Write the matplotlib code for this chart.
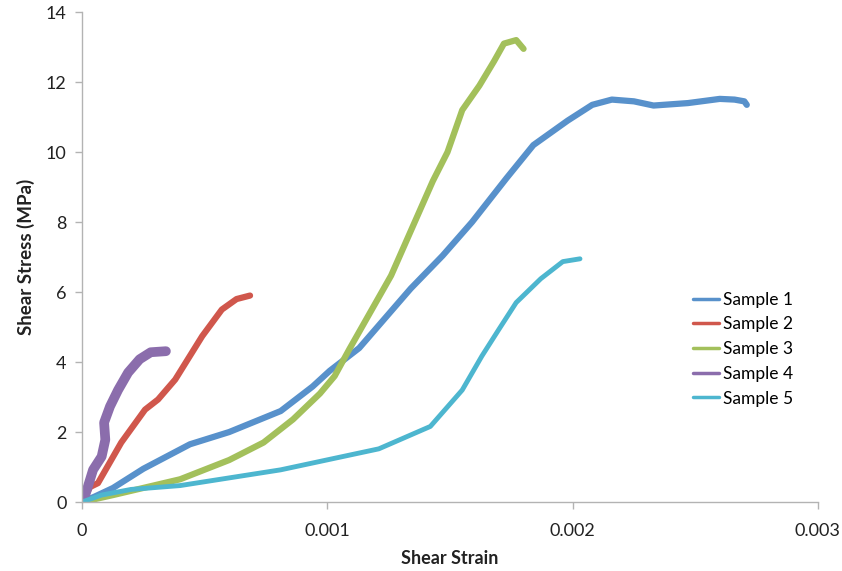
import matplotlib
matplotlib.use("Agg")
import matplotlib.pyplot as plt

plt.rcParams['font.family'] = ['Lato', 'DejaVu Sans']

# Data
s1_x = [0, 0.00005, 0.000126, 0.00025, 0.00044, 0.0006, 0.00081, 0.00094, 0.00101, 0.00113,
        0.00134, 0.00147, 0.00159, 0.00173, 0.00184, 0.00198, 0.00208, 0.00216, 0.00225, 0.00233,
        0.00247, 0.0026, 0.00266, 0.0027, 0.00271]
s1_y = [0, 0.15, 0.4, 0.95, 1.65, 2.0, 2.6, 3.3, 3.75, 4.4,
        6.1, 7.04, 8.0, 9.25, 10.2, 10.9, 11.35, 11.5, 11.45, 11.33,
        11.4, 11.52, 11.5, 11.45, 11.35]

s2_x = [0, 0.000033, 0.000065, 0.00016, 0.000257, 0.00031, 0.00038, 0.00049, 0.00057, 0.00063, 0.000685]
s2_y = [0, 0.43, 0.54, 1.7, 2.64, 2.93, 3.5, 4.74, 5.5, 5.8, 5.9]

s3_x = [0, 0.000127, 0.0004, 0.0006, 0.00074, 0.00086, 0.00097, 0.00103, 0.00109, 0.00126,
        0.00135, 0.00143, 0.00149, 0.00155, 0.00162, 0.00168, 0.00172, 0.00177, 0.0018]
s3_y = [0, 0.2, 0.65, 1.2, 1.7, 2.36, 3.1, 3.6, 4.37, 6.47,
        7.9, 9.17, 10.0, 11.2, 11.9, 12.6, 13.1, 13.2, 12.95]

s4_x = [0, 0.000016, 0.000045, 0.00008, 0.000095, 0.00009, 0.000114, 0.000147, 0.000188,
        0.000235, 0.00028, 0.000342]
s4_y = [0, 0.26, 0.92, 1.3, 1.78, 2.27, 2.73, 3.2, 3.7, 4.08, 4.28, 4.31]

s5_x = [0, 0.00008, 0.0002, 0.0004, 0.00081, 0.00121, 0.00142, 0.00155, 0.00163, 0.0017,
        0.00177, 0.00187, 0.00196, 0.00203]
s5_y = [0, 0.2, 0.36, 0.47, 0.92, 1.52, 2.16, 3.2, 4.17, 4.94,
        5.7, 6.38, 6.87, 6.95]

labels = ["Sample 1", "Sample 2", "Sample 3", "Sample 4", "Sample 5"]
colors = ["#5891cb", "#d0574c", "#a3c05b", "#8b6dac", "#4db6cf"]
widths = [4.5, 4.5, 4.5, 7.0, 3.5]

x_ticks = [0, 0.001, 0.002, 0.003]
x_ticklabels = ["0", "0.001", "0.002", "0.003"]
y_ticks = [0, 2, 4, 6, 8, 10, 12, 14]

fig = plt.figure(figsize=(8.42, 5.71), dpi=100)
ax = fig.add_axes([0.0974, 0.1208, 0.874, 0.858])

series = [(s1_x, s1_y), (s2_x, s2_y), (s3_x, s3_y), (s4_x, s4_y), (s5_x, s5_y)]
for (xs, ys), lab, c, w in zip(series, labels, colors, widths):
    ax.plot(xs, ys, color=c, lw=w, label=lab, solid_joinstyle='round', solid_capstyle='round')

ax.set_xlim(0, 0.003)
ax.set_ylim(0, 14)
ax.set_xticks(x_ticks)
ax.set_xticklabels(x_ticklabels)
ax.set_yticks(y_ticks)

for s in ['top', 'right']:
    ax.spines[s].set_visible(False)
for s in ['left', 'bottom']:
    ax.spines[s].set_color('#b3b3b3')
    ax.spines[s].set_linewidth(1.0)
ax.tick_params(axis='both', colors='#b3b3b3', labelcolor='#222222', labelsize=13,
               length=5, width=1.0, direction='out')
ax.tick_params(axis='x', pad=10)
ax.tick_params(axis='y', pad=6)

ax.set_xlabel("Shear Strain", fontsize=13, fontweight='bold', color='#222222', labelpad=8)
ax.set_ylabel("Shear Stress (MPa)", fontsize=13.5, fontweight='bold', color='#222222', labelpad=8)

leg = ax.legend(loc='center left', bbox_to_anchor=(0.830, 0.312), frameon=False, fontsize=12.5,
                borderpad=0, borderaxespad=0, handlelength=1.5, handletextpad=0.25,
                labelspacing=0.5)
for line in leg.get_lines():
    line.set_linewidth(2.5)

fig.savefig("out.png", dpi=100)
